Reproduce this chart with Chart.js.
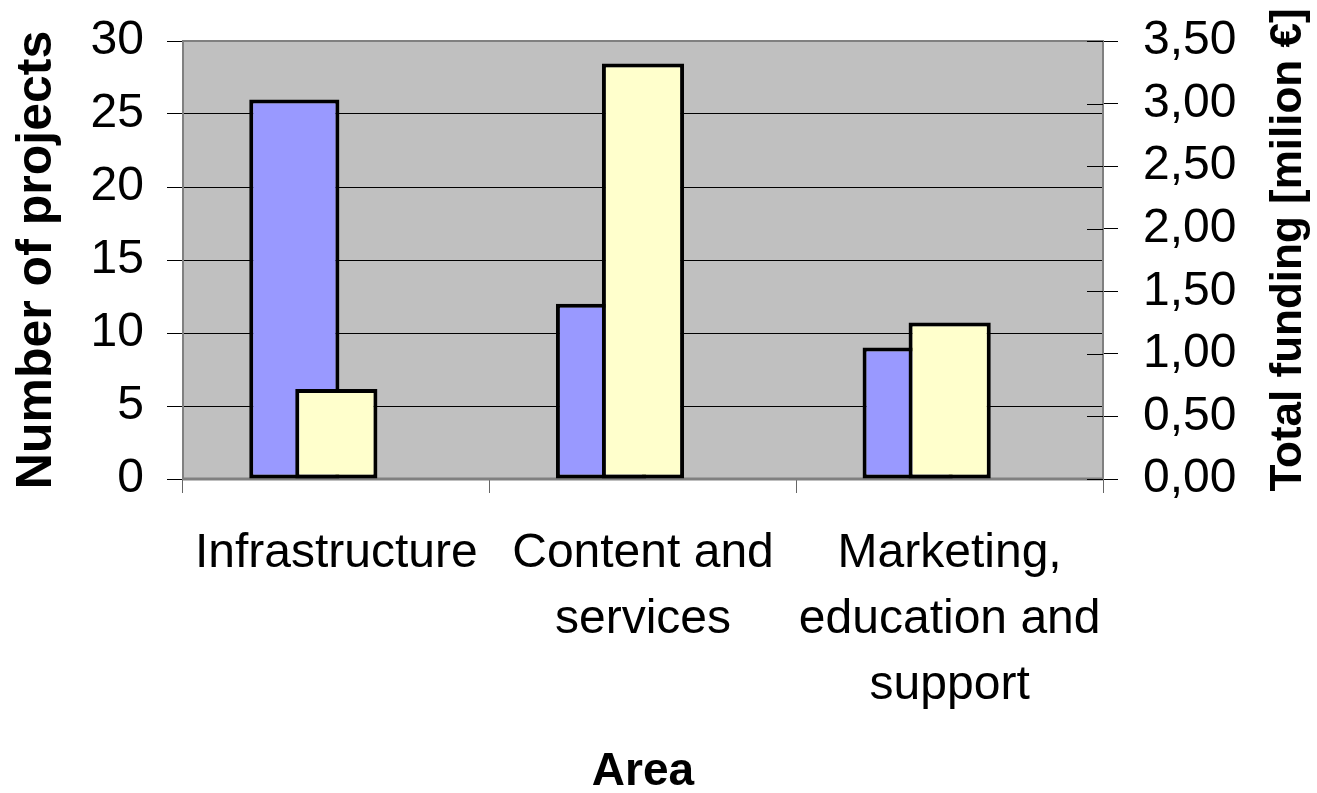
<!DOCTYPE html>
<html>
<head>
<meta charset="utf-8">
<script src="https://cdn.jsdelivr.net/npm/chart.js@4"></script>
<style>
  body { margin: 0; background: #fff; }
  #wrap { width: 1317px; height: 793px; }
</style>
</head>
<body>
<div id="wrap"><canvas id="myChart" width="1317" height="793"></canvas></div>
<script>
var categories = ['Infrastructure', ['Content and', 'services'], ['Marketing,', 'education and', 'support']];
var projects = [26, 12, 9];
var funding = [0.72, 3.32, 1.25];   // milion €

var font = "'Liberation Sans', Arial, sans-serif";

// Excel-style frame + grey plot background, blue bars sit half a bar to the left
var plotFrame = {
    id: 'plotFrame',
    afterDatasetsUpdate: function (chart) {
        var cw = chart.scales.x.width / categories.length;
        chart.getDatasetMeta(0).data.forEach(function (bar) {
            bar.x -= cw * 0.137;
        });
    },
    beforeDraw: function (chart) {
        var a = chart.chartArea, ctx = chart.ctx;
        ctx.save();
        ctx.fillStyle = '#C0C0C0';
        ctx.fillRect(a.left, a.top, a.right - a.left, a.bottom - a.top);
        ctx.restore();
    },
    beforeDatasetsDraw: function (chart) {
        var a = chart.chartArea, ctx = chart.ctx;
        ctx.save();
        ctx.strokeStyle = '#808080';
        ctx.lineWidth = 2;
        ctx.strokeRect(a.left, a.top, a.right - a.left, a.bottom - a.top);
        ctx.lineWidth = 3;
        ctx.beginPath();
        ctx.moveTo(a.left, a.bottom);
        ctx.lineTo(a.right, a.bottom);
        ctx.stroke();
        ctx.restore();
    },
    afterDraw: function (chart) {
        var a = chart.chartArea, ctx = chart.ctx, y2 = chart.scales.y2;
        ctx.save();
        // inner half of the right axis tick marks
        ctx.strokeStyle = '#000';
        ctx.lineWidth = 1;
        y2.ticks.forEach(function (t) {
            var py = Math.round(y2.getPixelForValue(t.value)) + 0.5;
            ctx.beginPath();
            ctx.moveTo(a.right - 16, py);
            ctx.lineTo(a.right, py);
            ctx.stroke();
        });
        // right axis title reads bottom to top
        ctx.translate(1289, 250);
        ctx.rotate(-Math.PI / 2);
        ctx.fillStyle = '#000';
        ctx.font = 'bold 44px ' + font;
        ctx.textAlign = 'center';
        ctx.textBaseline = 'middle';
        ctx.fillText('Total funding [milion €]', 0, 0);
        ctx.restore();
    }
};

// fixed axis sizes so the plot box lands where the original one is
function fixWidth(w) {
    return function (s) {
        s.width = w;
        s.paddingTop = 0;
        s.paddingBottom = 0;
    };
}

var data = {
    labels: categories,
    datasets: [
        {
            label: 'Number of projects',
            data: projects,
            yAxisID: 'y',
            backgroundColor: '#9999FF',
            borderColor: '#000',
            borderWidth: 4,
            borderSkipped: false,
            grouped: false,
            barPercentage: 0.294,
            categoryPercentage: 1,
            order: 1
        },
        {
            label: 'Total funding',
            data: funding,
            yAxisID: 'y2',
            backgroundColor: '#FFFFCC',
            borderColor: '#000',
            borderWidth: 4,
            borderSkipped: false,
            grouped: false,
            barPercentage: 0.268,
            categoryPercentage: 1,
            order: 0
        }
    ]
};

var options = {
    responsive: false,
    animation: false,
    events: [],
    layout: { padding: { top: 41, left: 0, right: 0, bottom: 0 } },
    plugins: {
        legend: { display: false },
        tooltip: { enabled: false }
    },
    scales: {
        x: {
            afterFit: function (s) { s.height = 314; },
            grid: { drawOnChartArea: false, tickLength: 14, color: '#666', offset: true },
            border: { display: false },
            ticks: {
                color: '#000',
                padding: 28,
                maxRotation: 0,
                autoSkip: false,
                font: { family: font, size: 48, lineHeight: 1.375 }
            },
            title: {
                display: true,
                text: 'Area',
                color: '#000',
                padding: 0,
                font: { family: font, size: 46, weight: 'bold', lineHeight: 0.9 }
            }
        },
        y: {
            position: 'left',
            min: 0,
            max: 30,
            afterFit: fixWidth(183),
            grid: { color: '#000', lineWidth: 1, tickLength: 16 },
            border: { display: false },
            ticks: {
                stepSize: 5,
                color: '#000',
                padding: 23,
                font: { family: font, size: 48 }
            },
            title: {
                display: true,
                text: 'Number of projects',
                color: '#000',
                padding: { top: 7, bottom: 0 },
                font: { family: font, size: 50, weight: 'bold', lineHeight: 1.2 }
            }
        },
        y2: {
            position: 'right',
            min: 0,
            max: 3.5,
            afterFit: fixWidth(214),
            grid: { drawOnChartArea: false, color: '#000', tickLength: 15 },
            border: { display: false },
            ticks: {
                stepSize: 0.5,
                color: '#000',
                padding: 25,
                font: { family: font, size: 48 },
                callback: function (v) { return v.toFixed(2).replace('.', ','); }
            }
        }
    }
};

new Chart(document.getElementById('myChart'), {
    type: 'bar',
    data: data,
    options: options,
    plugins: [plotFrame]
});
</script>
</body>
</html>
